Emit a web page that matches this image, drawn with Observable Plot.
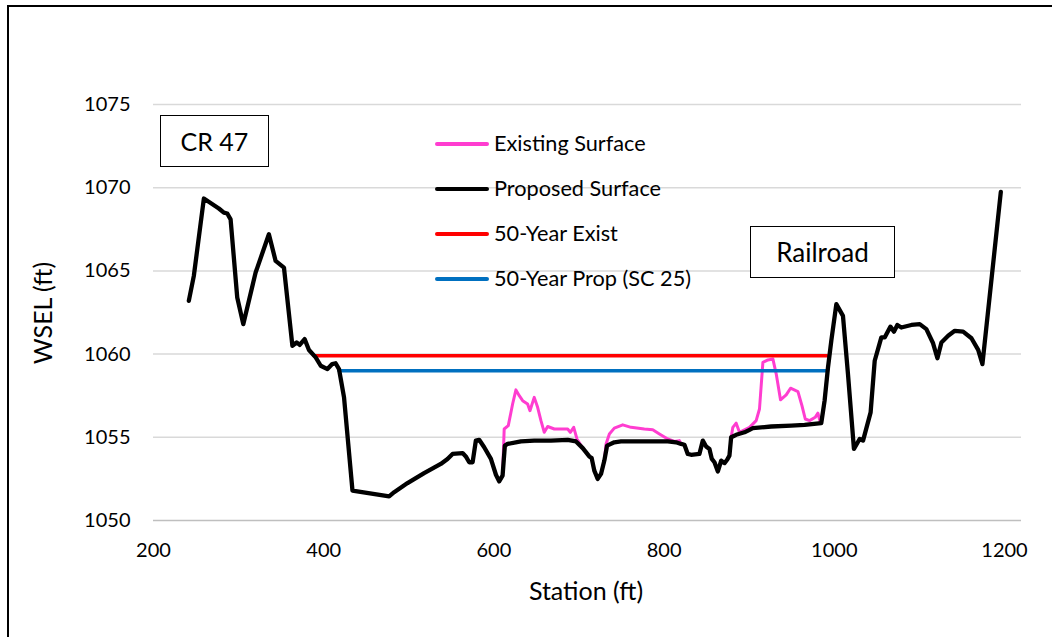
<!DOCTYPE html>
<html>
<head>
<meta charset="utf-8">
<script src="https://cdn.jsdelivr.net/npm/d3@7"></script>
<script src="https://cdn.jsdelivr.net/npm/@observablehq/plot@0.6"></script>
<style>
  html, body { margin: 0; padding: 0; background: #fff; }
  #wrap { position: relative; width: 1052px; height: 637px; overflow: hidden; font-family: Lato, "Noto Sans", sans-serif; color: #000; }
  #frame { position: absolute; left: 7px; top: 5px; width: 2000px; height: 2000px; border-left: 2px solid #000; border-top: 2px solid #000; pointer-events: none; }
  .box { position: absolute; border: 1.5px solid #000; background: #fff; display: flex; align-items: center; justify-content: center; font-size: 25px; box-sizing: border-box; }
  .leg-line { position: absolute; height: 4px; border-radius: 2px; }
  .leg-text { position: absolute; font-size: 21.7px; line-height: 22px; white-space: nowrap; }
  .axis-title { position: absolute; font-size: 25px; white-space: nowrap; }
</style>
</head>
<body>
<div id="wrap">
  <div id="chart"></div>
  <div id="frame"></div>
</div>
<script>
// ---- Data ----
const proposedSurface = [
  [241.5,1063.2],[247.4,1064.7],[259.2,1069.35],[276.8,1068.75],[282.7,1068.5],[286.7,1068.45],[290.6,1068.1],
  [298.4,1063.4],[305.5,1061.8],[320,1064.9],[335.6,1067.2],[343.5,1065.6],[353.3,1065.2],[363.2,1060.5],
  [368.2,1060.7],[371.8,1060.55],[377.6,1060.9],[382.7,1060.25],[390.6,1059.8],[396.5,1059.3],[404.4,1059.1],
  [410,1059.4],[414,1059.45],[418,1059.1],[423.9,1057.4],[433.8,1051.8],[476.9,1051.45],[482.8,1051.7],
  [498.5,1052.25],[518,1052.85],[537.6,1053.4],[545.5,1053.7],[551.4,1054],[563.2,1054.05],[567,1053.85],
  [571,1053.5],[575,1053.5],[578.8,1054.8],[582.7,1054.85],[588.6,1054.4],[596.5,1053.7],[602.4,1052.75],
  [606.2,1052.35],[610.2,1052.7],[612.9,1054.5],[616.1,1054.6],[631.8,1054.75],[647.4,1054.8],[667,1054.8],
  [686.7,1054.85],[696.5,1054.75],[704.4,1054.35],[712.1,1053.85],[714.9,1053.75],[718,1053],[722,1052.5],
  [725.9,1052.8],[729.8,1053.6],[733,1054.5],[741.5,1054.7],[749.4,1054.75],[772.9,1054.75],[804.3,1054.75],
  [814,1054.7],[820,1054.6],[823.9,1054.55],[827.8,1054],[831.8,1053.95],[841.5,1054],[845.5,1054.8],
  [849.4,1054.45],[853.3,1054.3],[856.1,1053.7],[859.2,1053.5],[863.2,1052.95],[867.1,1053.6],[871,1053.45],
  [874.1,1053.65],[876.8,1053.9],[878.8,1055],[884.7,1055.15],[894.5,1055.3],[900.4,1055.45],[904.3,1055.55],
  [925.9,1055.65],[949.4,1055.7],[965.1,1055.75],[984.7,1055.85],[988.6,1057.2],[992.6,1059.2],[996.5,1060.8],
  [1002.4,1063],[1010.2,1062.3],[1016.1,1058.8],[1023.1,1054.3],[1029.8,1054.9],[1033.8,1054.8],[1042.7,1056.5],
  [1047.5,1059.6],[1055.3,1061],[1059.2,1061],[1065.9,1061.65],[1070.2,1061.35],[1074.1,1061.75],[1078.8,1061.6],
  [1090.6,1061.75],[1100.4,1061.8],[1108.2,1061.5],[1116.1,1060.65],[1121.2,1059.75],[1125.9,1060.7],
  [1133.8,1061.1],[1141.6,1061.4],[1151.4,1061.35],[1161.2,1060.95],[1169.1,1060.25],[1174.1,1059.4],[1195.7,1069.75]
];
const existingSurface = [
  [606.2,1052.35],[610.2,1052.7],[612.1,1055.5],[616.9,1055.7],[622,1057],[625.9,1057.85],[629.8,1057.5],
  [633.8,1057.2],[639.6,1057],[642.4,1056.6],[647.4,1057.4],[651.4,1056.8],[655.3,1056],[659.2,1055.3],
  [663.2,1055.65],[671,1055.5],[686.7,1055.5],[689.8,1055.3],[693.8,1055.6],[697.6,1054.9],[704.4,1054.35],
  [712.1,1053.85],[714.9,1053.75],[718,1053],[722,1052.5],[725.9,1052.8],[729.8,1053.6],[731.8,1054.6],
  [735.7,1055.2],[741.5,1055.55],[751.4,1055.75],[761.2,1055.6],[776.8,1055.5],[786.7,1055.45],[794.5,1055.2],
  [804.3,1054.9],[812.1,1054.75],[818,1054.8],[820,1054.6],[823.9,1054.55],[827.8,1054],[831.8,1053.95],
  [841.5,1054],[845.5,1054.8],[849.4,1054.45],[853.3,1054.3],[856.1,1053.7],[859.2,1053.5],[863.2,1052.95],
  [867.1,1053.6],[871,1053.45],[874.1,1053.65],[876.8,1053.9],[878.8,1055],[880.8,1055.6],[884.7,1055.85],
  [888.6,1055.3],[900.4,1055.6],[908.2,1056],[912.1,1056.7],[916.1,1059.5],[922,1059.65],[927.9,1059.7],
  [931.8,1058.8],[936.8,1057.25],[943.5,1057.55],[948.6,1057.95],[957.3,1057.75],[962,1056.9],[965.9,1056.1],
  [971,1056],[977.6,1056.2],[980.8,1056.45],[983.5,1055.9],[984.7,1055.85],[988.6,1057.2],[992.6,1059.2]
];
const wsel50Exist = [[388.6,1059.9],[991.5,1059.9]];
const wsel50Prop = [[418,1059.0],[991.5,1059.0]];

const seriesNames = ["Existing Surface","Proposed Surface","50-Year Exist","50-Year Prop (SC 25)"];
const seriesColors = ["#ff3dd0","#000000","#ff0000","#0070c0"];

const xTicks = [200,400,600,800,1000,1200];
const yTicks = [1050,1055,1060,1065,1070,1075];
const xLabel = "Station (ft)";
const yLabel = "WSEL (ft)";
const boxLabels = ["CR 47","Railroad"];

// ---- Chart ----
const toRows = (arr, name) => arr.map(([s, e]) => ({station: s, elev: e, series: name}));
const plain = d => String(d);

const chart = Plot.plot({
  width: 1052,
  height: 637,
  marginLeft: 153,
  marginRight: 31,
  marginTop: 104,
  marginBottom: 117,
  style: {fontFamily: "Lato, 'Noto Sans', sans-serif", fontSize: "20px", color: "#000", background: "#fff"},
  x: {domain: [200, 1220]},
  y: {domain: [1050, 1075]},
  marks: [
    Plot.gridY(yTicks.filter(d => d !== 1050), {stroke: "#d9d9d9", strokeOpacity: 1, strokeWidth: 1.5}),
    Plot.ruleY([1050], {stroke: "#bfbfbf", strokeWidth: 1.5}),
    Plot.axisY(yTicks, {tickSize: 0, tickPadding: 23, label: null, fontSize: 20, tickFormat: plain}),
    Plot.axisX(xTicks, {tickSize: 0, tickPadding: 22, label: null, fontSize: 20, tickFormat: plain}),
    Plot.line(toRows(existingSurface, seriesNames[0]), {x: "station", y: "elev", stroke: seriesColors[0], strokeWidth: 3, strokeLinejoin: "round"}),
    Plot.line(toRows(wsel50Exist, seriesNames[2]), {x: "station", y: "elev", stroke: seriesColors[2], strokeWidth: 3.5}),
    Plot.line(toRows(wsel50Prop, seriesNames[3]), {x: "station", y: "elev", stroke: seriesColors[3], strokeWidth: 3.5}),
    Plot.line(toRows(proposedSurface, seriesNames[1]), {x: "station", y: "elev", stroke: seriesColors[1], strokeWidth: 4.3, strokeLinejoin: "round", strokeLinecap: "round"})
  ]
});
const wrap = document.getElementById("wrap");
document.getElementById("chart").appendChild(chart);

// ---- Annotations (HTML overlays) ----
function addDiv(cls, text, css) {
  const d = document.createElement("div");
  d.className = cls;
  if (text) d.textContent = text;
  Object.assign(d.style, css);
  wrap.appendChild(d);
  return d;
}
addDiv("box", boxLabels[0], {left: "160px", top: "115px", width: "109px", height: "52px"});
addDiv("box", boxLabels[1], {left: "750px", top: "226px", width: "145px", height: "52px", fontSize: "26px"});

// legend
const legendRows = [144, 189, 234, 279];
seriesNames.forEach((name, i) => {
  addDiv("leg-line", null, {left: "435px", top: (legendRows[i] - 2) + "px", width: "54px", background: seriesColors[i]});
  addDiv("leg-text", name, {left: "494px", top: (legendRows[i] - 12) + "px"});
});

// axis titles
addDiv("axis-title", xLabel, {left: "586px", top: "590px", transform: "translate(-50%,-50%)"});
addDiv("axis-title", yLabel, {left: "42px", top: "313px", transform: "translate(-50%,-50%) rotate(-90deg)"});
</script>
</body>
</html>
